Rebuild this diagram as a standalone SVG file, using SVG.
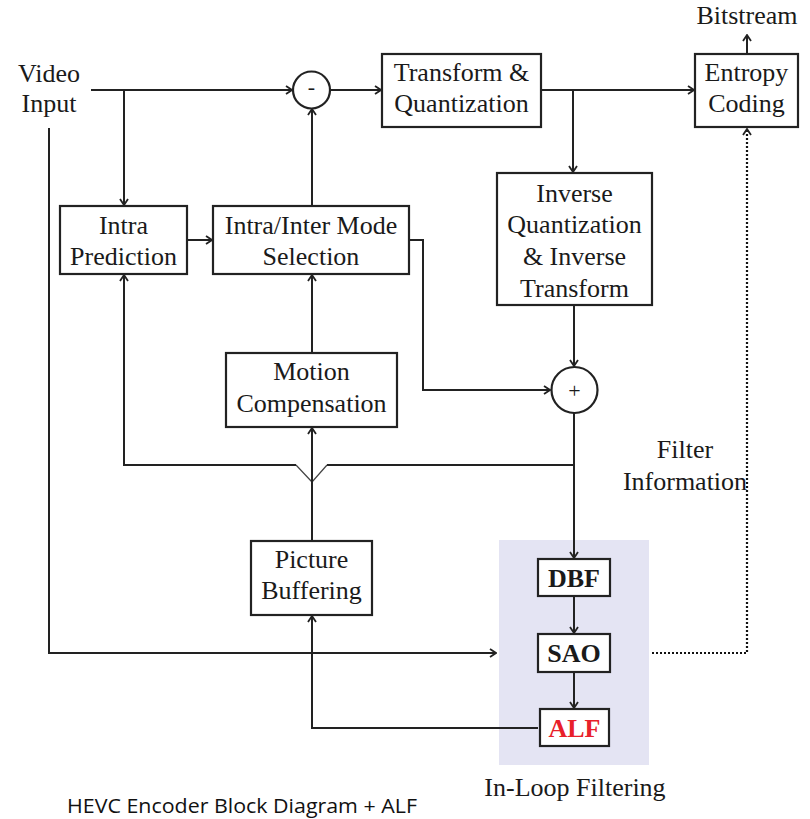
<svg xmlns="http://www.w3.org/2000/svg" width="810" height="819" viewBox="0 0 810 819">
<defs>
<marker id="ah" viewBox="0 0 10 10" refX="9" refY="5" markerWidth="10" markerHeight="10" markerUnits="userSpaceOnUse" orient="auto">
<path d="M3,1 L9,5 L3,9" fill="none" stroke="#222" stroke-width="1.8"/>
</marker>
</defs>
<style>
.box{fill:#fff;stroke:#222;stroke-width:2.2}
.t{font-family:"Liberation Serif","Times New Roman",serif;font-size:26px;fill:#1a1a1a;text-anchor:middle}
.b{font-family:"Liberation Serif","Times New Roman",serif;font-size:26px;font-weight:bold;fill:#1a1a1a;text-anchor:middle}
.ln{fill:none;stroke:#222;stroke-width:2}
.arr{marker-end:url(#ah)}
</style>
<rect width="810" height="819" fill="#fff"/>
<rect x="499" y="540" width="150" height="225" fill="#e4e4f3"/>

<g id="connectors">
<path class="ln arr" d="M91,90 H292"/>
<path class="ln arr" d="M124,90 V205"/>
<path class="ln arr" d="M330,90 H381"/>
<path class="ln arr" d="M541,90 H694"/>
<path class="ln arr" d="M573,90 V172"/>
<path class="ln arr" d="M747,53 V35"/>
<path class="ln arr" d="M187,240 H212"/>
<path class="ln arr" d="M312,206 V109"/>
<path class="ln arr" d="M409,240 H423 V390 H550"/>
<path class="ln arr" d="M574,305 V366"/>
<path class="ln arr" d="M574,413 V558"/>
<path class="ln" d="M574,465 H327"/>
<path d="M327,465 L312,482 L296,465" fill="none" stroke="#444" stroke-width="1.2"/>
<path class="ln arr" d="M296,465 H124 V275"/>
<path class="ln arr" d="M312,541 V428"/>
<path class="ln arr" d="M312,353 V275"/>
<path class="ln arr" d="M49,128 V653 H496"/>
<path class="ln arr" d="M574,596 V633"/>
<path class="ln arr" d="M574,672 V708"/>
<path class="ln arr" d="M538,728 H312 V616"/>
<path d="M652,653 H747 V129" fill="none" stroke="#111" stroke-width="2.2" stroke-dasharray="2 2"/>
<path class="ln arr" d="M747,132 V129"/>
</g>

<g id="video-input">
<text class="t" x="49" y="82">Video</text>
<text class="t" x="49" y="112">Input</text>
</g>
<g id="bitstream"><text class="t" x="747" y="24">Bitstream</text></g>
<g id="minus">
<circle cx="311.5" cy="90" r="18.5" fill="#fff" stroke="#222" stroke-width="2.2"/>
<text class="t" x="311.5" y="94" style="font-size:22px">-</text>
</g>
<g id="transform">
<rect class="box" x="382" y="54" width="159" height="73"/>
<text class="t" x="461.5" y="81">Transform &amp;</text>
<text class="t" x="461.5" y="112">Quantization</text>
</g>
<g id="entropy">
<rect class="box" x="695" y="54" width="103" height="73"/>
<text class="t" x="746.5" y="81">Entropy</text>
<text class="t" x="746.5" y="112">Coding</text>
</g>
<g id="intra">
<rect class="box" x="60" y="206" width="127" height="68"/>
<text class="t" x="123.5" y="234">Intra</text>
<text class="t" x="123.5" y="265">Prediction</text>
</g>
<g id="mode">
<rect class="box" x="213" y="206" width="196" height="68"/>
<text class="t" x="311" y="234">Intra/Inter Mode</text>
<text class="t" x="311" y="265">Selection</text>
</g>
<g id="inverse">
<rect class="box" x="497" y="173" width="155" height="132"/>
<text class="t" x="574.5" y="202">Inverse</text>
<text class="t" x="574.5" y="233">Quantization</text>
<text class="t" x="574.5" y="265">&amp; Inverse</text>
<text class="t" x="574.5" y="297">Transform</text>
</g>
<g id="plus">
<circle cx="574.5" cy="390" r="23" fill="#fff" stroke="#222" stroke-width="2.2"/>
<text class="t" x="574.5" y="398" style="font-size:22px">+</text>
</g>
<g id="motion">
<rect class="box" x="226" y="353" width="171" height="74"/>
<text class="t" x="311.5" y="380">Motion</text>
<text class="t" x="311.5" y="412">Compensation</text>
</g>
<g id="filter-info">
<text class="t" x="685" y="458">Filter</text>
<text class="t" x="685" y="490">Information</text>
</g>
<g id="picture">
<rect class="box" x="251" y="541" width="121" height="74"/>
<text class="t" x="311.5" y="568">Picture</text>
<text class="t" x="311.5" y="599">Buffering</text>
</g>
<g id="dbf">
<rect class="box" x="538" y="559" width="72" height="37"/>
<text class="b" x="574" y="587">DBF</text>
</g>
<g id="sao">
<rect class="box" x="538" y="634" width="72" height="38"/>
<text class="b" x="574" y="662">SAO</text>
</g>
<g id="alf">
<rect class="box" x="540" y="709" width="69" height="37" stroke-width="1.8"/>
<text class="b" x="574.5" y="737" style="fill:#e8202a">ALF</text>
</g>
<g id="in-loop-label"><text class="t" x="575" y="796">In-Loop Filtering</text></g>
<text x="67" y="813" textLength="350" lengthAdjust="spacingAndGlyphs" style="font-family:'Open Sans','Noto Sans',sans-serif;font-size:20px;fill:#111">HEVC Encoder Block Diagram + ALF</text>
</svg>
